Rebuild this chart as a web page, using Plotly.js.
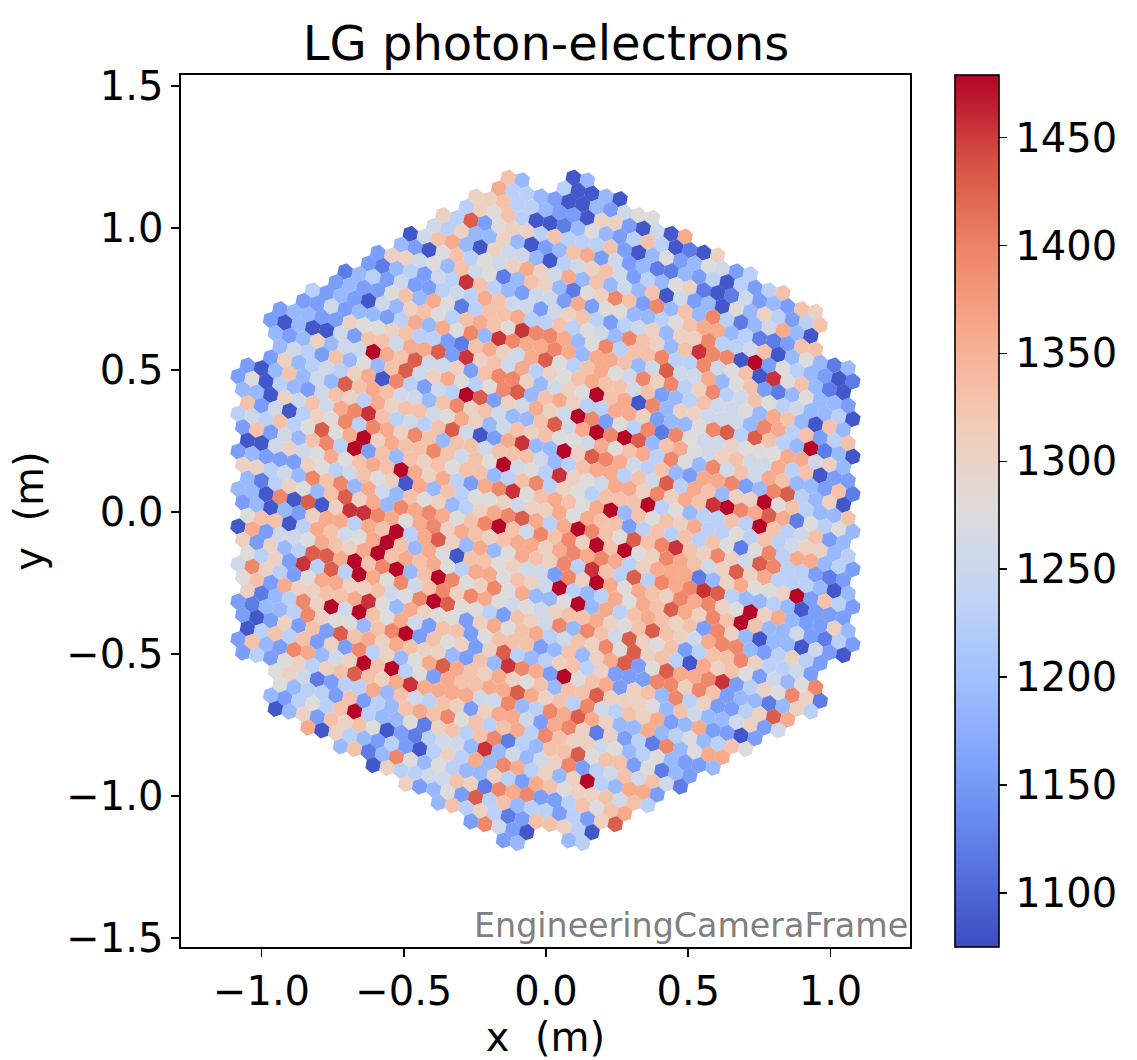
<!DOCTYPE html><html><head><script src="https://cdn.plot.ly/plotly-3.0.1.min.js"></script></head><body style="margin:0;background:#fff"><div id="g" style="width:1137px;height:1060px"></div><script>
const r27=[1085,1190];
const r26=[1330,1190,1230,1085,1085,1190,1085];
const r25=[1360,1230,1230,1190,1155,1085,1085,1190,1155,1258,1278,1278];
const r24=[1305,1305,1330,1230,1230,1190,1155,1155,1085,1305,1305,1155,1085,1258,1085,1360];
const r23=[1230,1305,1278,1330,1230,1085,1085,1120,1190,1278,1190,1155,1230,1330,1230,1085,1120,1085,1305];
const r22=[1305,1230,1430,1155,1278,1305,1305,1230,1330,1230,1230,1230,1330,1155,1085,1190,1278,1155,1190,1278,1258,1155,1230];
const r21=[1258,1230,1305,1190,1190,1305,1190,1085,1155,1190,1330,1360,1155,1258,1155,1190,1120,1120,1190,1155,1230,1085,1230,1155,1230,1330];
const r20=[1085,1258,1330,1360,1190,1085,1305,1258,1258,1190,1085,1230,1258,1305,1330,1258,1155,1230,1190,1278,1305,1120,1085,1120,1258,1155,1190,1155,1330,1305];
const r19=[1190,1155,1085,1278,1330,1230,1278,1258,1305,1360,1305,1258,1360,1190,1330,1190,1258,1190,1330,1085,1258,1155,1190,1085,1278,1190,1305,1230,1155,1230,1330];
const r18=[1155,1305,1305,1258,1278,1190,1330,1258,1278,1120,1190,1330,1305,1190,1120,1278,1305,1395,1330,1155,1395,1190,1330,1190,1395,1230,1120,1190,1258,1360,1190,1085];
const r17=[1155,1120,1190,1230,1155,1258,1230,1455,1330,1230,1190,1155,1258,1258,1155,1360,1155,1278,1278,1190,1190,1230,1278,1330,1360,1360,1190,1230,1120,1120,1155,1330,1330];
const r16=[1120,1190,1230,1155,1258,1155,1155,1230,1258,1230,1360,1330,1258,1258,1155,1258,1305,1330,1230,1155,1230,1258,1305,1190,1305,1305,1395,1230,1230,1258,1330,1085,1190,1278,1190,1120,1190];
const r15=[1155,1190,1155,1155,1278,1330,1190,1360,1278,1120,1230,1330,1330,1360,1230,1230,1330,1230,1278,1258,1190,1395,1330,1305,1190,1330,1455,1395,1395,1085,1478,1155,1278,1230,1190,1155,1085,1120];
const r14=[1230,1155,1190,1155,1085,1258,1190,1305,1330,1278,1230,1330,1360,1330,1278,1455,1395,1395,1360,1190,1278,1395,1230,1330,1330,1395,1230,1230,1395,1258,1278,1330,1085,1455,1278,1330,1190,1120,1085];
const r13=[1155,1155,1258,1155,1190,1190,1155,1230,1360,1190,1360,1278,1395,1190,1455,1395,1360,1360,1395,1360,1190,1360,1360,1330,1190,1258,1430,1258,1258,1360,1190,1278,1330,1155,1120,1190,1278,1190,1190,1155];
const r12=[1155,1190,1190,1155,1155,1305,1278,1278,1305,1330,1230,1230,1155,1120,1330,1360,1305,1258,1360,1430,1278,1230,1330,1360,1278,1258,1395,1305,1395,1230,1305,1395,1230,1258,1330,1278,1230,1258,1190,1190,1230,1085];
const r11=[1155,1085,1190,1085,1085,1258,1155,1330,1330,1258,1360,1360,1430,1155,1455,1305,1330,1258,1360,1230,1305,1278,1330,1360,1330,1330,1258,1330,1155,1190,1230,1330,1258,1258,1278,1190,1360,1330,1190,1085,1330,1190];
const r10=[1190,1155,1190,1305,1190,1258,1258,1478,1360,1330,1430,1258,1258,1305,1155,1330,1395,1395,1305,1190,1258,1305,1278,1478,1330,1360,1085,1395,1190,1305,1305,1258,1258,1258,1190,1395,1360,1230,1330,1155,1230,1330];
const r9=[1190,1258,1230,1155,1330,1190,1278,1190,1330,1430,1258,1305,1360,1278,1230,1278,1395,1430,1190,1330,1360,1305,1230,1230,1360,1360,1305,1155,1190,1190,1278,1395,1430,1230,1430,1330,1230,1190,1478,1120,1190,1085];
const r8=[1155,1305,1190,1230,1258,1230,1305,1360,1085,1395,1230,1155,1258,1230,1478,1430,1155,1305,1258,1360,1305,1258,1478,1395,1155,1278,1230,1395,1120,1395,1278,1258,1258,1305,1278,1278,1278,1360,1360,1258,1305,1190];
const r7=[1155,1085,1190,1330,1190,1258,1190,1430,1330,1360,1330,1258,1258,1190,1330,1395,1305,1330,1258,1190,1190,1330,1430,1258,1360,1478,1395,1478,1430,1190,1330,1360,1278,1258,1305,1330,1258,1258,1360,1230,1330,1085,1155,1155];
const r6=[1155,1278,1085,1230,1190,1155,1258,1330,1305,1230,1360,1305,1330,1330,1258,1278,1360,1305,1190,1258,1330,1305,1330,1278,1278,1258,1360,1278,1330,1360,1230,1395,1278,1190,1395,1258,1330,1258,1360,1330,1190,1190,1155,1330,1120];
const r5=[1190,1190,1085,1305,1258,1330,1258,1360,1395,1455,1330,1230,1258,1230,1330,1430,1258,1085,1155,1360,1455,1190,1190,1478,1305,1430,1395,1360,1258,1230,1330,1190,1155,1360,1360,1395,1155,1190,1395,1430,1230,1190,1305,1085];
const r4=[1330,1155,1258,1085,1230,1305,1278,1395,1230,1395,1360,1305,1395,1330,1190,1330,1330,1258,1330,1330,1330,1258,1190,1230,1330,1360,1360,1230,1330,1258,1430,1230,1360,1330,1190,1305,1305,1478,1278,1330,1230,1190,1190,1330];
const r3=[1230,1258,1230,1330,1230,1278,1430,1278,1360,1478,1305,1360,1330,1330,1395,1330,1258,1330,1278,1478,1258,1278,1230,1455,1305,1278,1258,1360,1360,1305,1395,1305,1360,1330,1455,1478,1395,1360,1430,1360,1120,1278,1230,1278,1190];
const r2=[1155,1330,1155,1258,1190,1330,1395,1230,1478,1155,1330,1190,1330,1305,1330,1278,1330,1330,1190,1230,1330,1395,1230,1305,1278,1230,1330,1330,1330,1478,1230,1278,1190,1230,1230,1330,1230,1478,1330,1230,1258,1330,1155,1190];
const r1=[1085,1085,1258,1305,1258,1278,1360,1278,1330,1360,1330,1478,1360,1305,1360,1230,1155,1360,1395,1455,1278,1330,1360,1330,1278,1360,1478,1190,1330,1278,1330,1305,1360,1230,1230,1278,1230,1330,1230,1258,1305,1305,1190,1230];
const r0=[1155,1190,1155,1155,1155,1305,1278,1230,1258,1330,1278,1305,1085,1360,1190,1330,1230,1278,1278,1305,1258,1305,1305,1360,1278,1360,1330,1330,1155,1230,1330,1230,1330,1230,1330,1278,1120,1278,1395,1230,1360,1360,1190,1230,1155];
const m1=[1305,1305,1230,1258,1190,1395,1330,1395,1190,1360,1258,1190,1330,1278,1305,1190,1230,1305,1360,1395,1430,1360,1230,1360,1478,1395,1330,1278,1430,1330,1395,1455,1330,1305,1395,1305,1258,1430,1395,1230,1230,1155,1120,1155];
const m2=[1190,1120,1230,1305,1278,1190,1330,1430,1305,1360,1190,1395,1360,1395,1360,1278,1330,1395,1478,1330,1258,1395,1330,1395,1305,1478,1330,1478,1278,1305,1395,1360,1330,1258,1305,1430,1305,1360,1230,1230,1230,1190,1085,1190];
const m3=[1190,1190,1085,1395,1085,1430,1085,1305,1455,1455,1395,1360,1278,1360,1395,1305,1360,1330,1305,1330,1360,1360,1305,1360,1395,1360,1395,1360,1230,1305,1360,1360,1360,1120,1190,1305,1360,1278,1278,1305,1478,1155,1330,1230,1155];
const m4=[1155,1190,1085,1190,1155,1305,1360,1360,1230,1360,1330,1478,1230,1360,1430,1305,1190,1360,1190,1278,1360,1330,1305,1395,1230,1455,1330,1230,1430,1230,1395,1360,1395,1455,1430,1230,1190,1190,1230,1190,1085,1155,1155,1155];
const m5=[1278,1330,1330,1085,1230,1360,1330,1258,1278,1360,1478,1330,1190,1360,1278,1085,1330,1330,1278,1305,1258,1258,1155,1395,1305,1478,1360,1278,1360,1330,1305,1395,1360,1395,1305,1278,1478,1305,1360,1190,1155,1155,1305,1190];
const m6=[1085,1360,1155,1258,1258,1278,1360,1330,1305,1360,1478,1330,1360,1330,1360,1278,1230,1360,1360,1278,1330,1305,1258,1478,1230,1190,1230,1360,1278,1360,1330,1430,1360,1305,1395,1330,1478,1330,1190,1190,1258,1155,1120,1230,1155];
const m7=[1305,1155,1305,1190,1230,1430,1430,1360,1478,1330,1395,1478,1190,1330,1478,1395,1278,1305,1395,1278,1360,1190,1190,1278,1478,1190,1360,1230,1330,1360,1330,1305,1330,1155,1395,1305,1190,1085,1190,1190,1085,1258,1155,1085];
const m8=[1278,1230,1305,1155,1455,1230,1430,1230,1478,1360,1278,1395,1258,1330,1395,1305,1395,1360,1278,1258,1278,1258,1305,1330,1330,1360,1305,1278,1330,1430,1330,1305,1258,1360,1395,1395,1190,1155,1230,1305,1230,1155];
const m9=[1258,1395,1305,1230,1155,1278,1360,1360,1305,1305,1330,1258,1278,1395,1478,1430,1278,1278,1230,1155,1330,1305,1258,1395,1190,1395,1330,1258,1430,1305,1278,1330,1155,1230,1330,1330,1395,1305,1230,1230,1258,1155];
const m10=[1278,1330,1155,1360,1305,1305,1330,1330,1360,1455,1278,1190,1360,1305,1278,1278,1155,1305,1360,1278,1330,1360,1230,1258,1330,1305,1395,1278,1430,1305,1330,1230,1085,1360,1305,1330,1278,1155,1258,1190,1278,1395];
const m11=[1305,1120,1190,1230,1395,1305,1478,1258,1478,1330,1278,1360,1258,1155,1330,1330,1155,1278,1330,1330,1330,1155,1190,1330,1190,1305,1360,1430,1155,1278,1430,1360,1360,1395,1455,1155,1230,1305,1278,1395,1305,1120];
const m12=[1155,1120,1190,1190,1230,1395,1305,1278,1278,1190,1330,1395,1478,1155,1330,1278,1305,1155,1305,1430,1230,1190,1230,1305,1330,1230,1305,1155,1155,1155,1395,1395,1305,1395,1330,1155,1190,1190,1120,1190,1305,1230];
const m13=[1155,1085,1155,1305,1155,1330,1155,1430,1330,1360,1305,1360,1330,1305,1305,1190,1155,1330,1190,1455,1395,1360,1155,1478,1278,1330,1360,1155,1305,1330,1190,1395,1230,1305,1155,1155,1230,1305,1430,1360];
const m14=[1085,1230,1330,1230,1330,1155,1305,1155,1395,1230,1305,1190,1278,1360,1430,1360,1330,1305,1360,1305,1278,1330,1190,1330,1330,1430,1305,1305,1305,1278,1190,1330,1258,1190,1190,1258,1305,1155,1258];
const m15=[1155,1330,1190,1155,1395,1360,1190,1258,1305,1478,1330,1478,1230,1278,1155,1360,1330,1330,1360,1360,1430,1360,1305,1330,1230,1395,1258,1230,1330,1305,1360,1155,1190,1360,1155,1155,1085,1155];
const m16=[1155,1230,1155,1278,1305,1230,1305,1330,1430,1330,1305,1360,1455,1360,1360,1360,1360,1258,1258,1395,1190,1230,1395,1360,1430,1360,1305,1190,1190,1360,1190,1230,1278,1190,1230,1330,1278];
const m17=[1278,1305,1258,1120,1155,1230,1230,1360,1190,1330,1258,1230,1330,1305,1155,1305,1360,1360,1258,1155,1360,1395,1305,1120,1305,1155,1230,1120,1395,1190,1278,1360,1360];
const m18=[1278,1190,1230,1230,1155,1330,1155,1230,1190,1330,1360,1330,1395,1278,1330,1230,1330,1360,1230,1395,1330,1305,1305,1258,1278,1190,1230,1278,1190,1155,1155,1190];
const m19=[1190,1155,1230,1278,1230,1330,1478,1230,1190,1190,1278,1120,1305,1330,1230,1330,1395,1120,1230,1190,1330,1330,1430,1278,1330,1330,1155,1278,1120,1190,1155];
const m20=[1085,1190,1305,1155,1330,1305,1330,1278,1085,1155,1120,1230,1258,1258,1190,1455,1190,1258,1190,1258,1305,1395,1155,1230,1258,1330,1258,1330,1258,1120];
const m21=[1360,1085,1305,1230,1190,1155,1230,1155,1085,1230,1305,1230,1360,1190,1395,1360,1230,1305,1190,1305,1478,1230,1190,1360,1360,1155];
const m22=[1190,1330,1120,1190,1395,1278,1190,1278,1230,1190,1190,1305,1230,1155,1360,1330,1278,1305,1305,1330,1258,1330,1230];
const m23=[1085,1305,1230,1230,1258,1258,1330,1305,1120,1395,1360,1395,1155,1155,1230,1330,1278,1330,1360];
const m24=[1305,1155,1190,1278,1155,1430,1230,1330,1190,1230,1230,1155,1230,1155,1305,1430];
const m25=[1190,1330,1230,1305,1230,1120,1155,1330,1330,1305,1230,1085];
const m26=[1155,1395,1258,1155,1085,1190,1230];
const m27=[1155,1190];
const rowValues=[r27,r26,r25,r24,r23,r22,r21,r20,r19,r18,r17,r16,r15,r14,r13,r12,r11,r10,r9,r8,r7,r6,r5,r4,r3,r2,r1,r0,m1,m2,m3,m4,m5,m6,m7,m8,m9,m10,m11,m12,m13,m14,m15,m16,m17,m18,m19,m20,m21,m22,m23,m24,m25,m26,m27];
const titleText="LG photon-electrons", frameName="EngineeringCameraFrame";
const tickX=[-1,-0.5,0,0.5,1], tickY=[-1.5,-1,-0.5,0,0.5,1,1.5], tickC=[1100,1150,1200,1250,1300,1350,1400,1450];
const coolwarm=[[0,'#3b4cc0'],[0.1,'#5977e3'],[0.2,'#7b9ff9'],[0.3,'#9ebeff'],[0.4,'#c0d4f5'],[0.5,'#dddcdc'],[0.6,'#f2cbb7'],[0.7,'#f7ac8e'],[0.8,'#ee8468'],[0.9,'#d65244'],[1,'#b40426']];
// camera geometry: 265 seven-pixel modules on a hexagonal lattice, rotated 10.893 deg
const pitch=0.05, rot=-10.893*Math.PI/180, cx=-0.002, cy=0.006;
const ax=pitch*Math.cos(rot), ay=pitch*Math.sin(rot), bx=pitch*Math.cos(rot+Math.PI/3), by=pitch*Math.sin(rot+Math.PI/3);
const flower=[[0,0],[1,0],[-1,0],[0,1],[0,-1],[1,-1],[-1,1]];
const rows={};
for(let m=-9;m<=9;m++)for(let n=-9;n<=9;n++){
 const d=Math.max(Math.abs(m),Math.abs(n),Math.abs(m+n));
 if(d>9)continue;
 if(d==9&&(Math.abs(m)==9||m==0)&&(Math.abs(n)==9||n==0)&&(Math.abs(m+n)==9||m+n==0))continue;
 for(const o of flower){const i=3*m+n+o[0],j=-m+2*n+o[1];(rows[j]=rows[j]||[]).push(i);}
}
const xs=[],ys=[],zs=[];
for(let j=27;j>=-27;j--){const r=rows[j].sort((p,q)=>p-q),v=rowValues[27-j];
 r.forEach((i,k)=>{xs.push(cx+i*ax+j*bx);ys.push(cy+i*ay+j*by);zs.push(v[k]);});}
const f=s=>({family:'DejaVu Sans, sans-serif',size:s,color:'#000'});
const axis=(vals,rng,ttl,st)=>({range:rng,tickmode:'array',tickvals:vals,ticktext:vals.map(v=>(v<0?'\u2212':'')+Math.abs(v).toFixed(1)),ticks:'outside',ticklen:8,tickwidth:1.6,tickcolor:'#000',linecolor:'#000',linewidth:1.6,mirror:true,showline:true,showgrid:false,zeroline:false,tickfont:f(40),title:{text:ttl,font:f(40),standoff:st},automargin:false});
Plotly.newPlot('g',[{type:'scatter',mode:'markers',x:xs,y:ys,hoverinfo:'skip',marker:{symbol:'hexagon',angle:10.893,size:16.6,line:{width:0},color:zs,cmin:1075,cmax:1479,colorscale:coolwarm,showscale:true,
 colorbar:{x:1.0617,xanchor:'left',xpad:0,y:0.5,yanchor:'middle',ypad:0,len:1,lenmode:'fraction',thickness:44,thicknessmode:'pixels',outlinewidth:1.6,outlinecolor:'#000',tickmode:'array',tickvals:tickC,ticks:'outside',ticklen:8,tickwidth:1.6,tickcolor:'#000',tickfont:f(40)}}}],
 {width:1137,height:1060,margin:{l:181,r:227,t:75,b:113},paper_bgcolor:'#fff',plot_bgcolor:'#fff',showlegend:false,
 title:{text:titleText,font:f(48),x:546/1137,xanchor:'center',y:1-43/1060,yanchor:'middle'},
 xaxis:axis(tickX,[-1.2829,1.2794],'x\u00a0\u00a0(m)',12),
 yaxis:axis(tickY,[-1.532,1.539],'y\u00a0\u00a0(m)',10),
 annotations:[{text:frameName,xref:'paper',yref:'paper',x:1,y:0,xanchor:'right',yanchor:'bottom',showarrow:false,font:{family:'DejaVu Sans, sans-serif',size:33.3,color:'#808080'}}]
 },{staticPlot:true});
</script></body></html>
